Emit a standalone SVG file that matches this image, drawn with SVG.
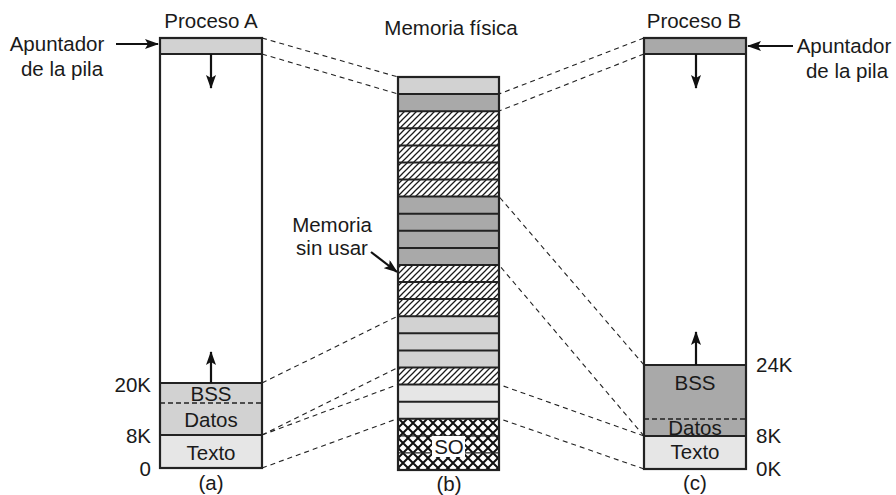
<svg xmlns="http://www.w3.org/2000/svg" width="896" height="495" viewBox="0 0 896 495">
<style>
text{font-family:"Liberation Sans",Arial,sans-serif;font-size:20.5px;fill:#1a1a1a}
.mid{text-anchor:middle}
.end{text-anchor:end}
.box{stroke:#222;stroke-width:2.2;fill:none}
.sep{stroke:#222;stroke-width:2}
.dash{stroke:#222;stroke-width:1.1;stroke-dasharray:5 4;fill:none}
.idash{stroke:#222;stroke-width:1.3;stroke-dasharray:5 3}
.arr{stroke:#111;stroke-width:2.2;fill:none}
.lt{fill:#d2d2d2}
.md{fill:#a9a9a9}
.vl{fill:#e6e6e6}
</style>
<defs>
<pattern id="hatch" patternUnits="userSpaceOnUse" width="6" height="6">
<rect width="6" height="6" fill="#fff"/>
<path d="M0,6 L6,0 M-1.5,1.5 L1.5,-1.5 M4.5,7.5 L7.5,4.5" stroke="#1a1a1a" stroke-width="1.25"/>
</pattern>
<pattern id="xhatch" patternUnits="userSpaceOnUse" width="10" height="10" x="398" y="418">
<rect width="10" height="10" fill="#fff"/>
<path d="M0,0 L10,10 M10,0 L0,10" stroke="#111" stroke-width="2"/>
</pattern>
<marker id="ah" viewBox="0 0 14 10" refX="13" refY="5" markerWidth="14" markerHeight="10" markerUnits="userSpaceOnUse" orient="auto">
<path d="M0,0 L14,5 L0,10 L3,5 Z" fill="#111"/>
</marker>
</defs>
<rect width="896" height="495" fill="#fff"/>

<g id="connectors">
<line class="dash" x1="262" y1="38" x2="398" y2="77"/>
<line class="dash" x1="262" y1="54" x2="398" y2="94"/>
<line class="dash" x1="262" y1="383" x2="398" y2="316"/>
<line class="dash" x1="262" y1="435" x2="398" y2="367.5"/>
<line class="dash" x1="262" y1="435" x2="398" y2="384.5"/>
<line class="dash" x1="262" y1="468" x2="398" y2="418.5"/>
<line class="dash" x1="644" y1="38" x2="499" y2="94"/>
<line class="dash" x1="644" y1="54" x2="499" y2="111"/>
<line class="dash" x1="644" y1="365" x2="499" y2="196.5"/>
<line class="dash" x1="644" y1="436" x2="499" y2="265"/>
<line class="dash" x1="644" y1="436" x2="499" y2="384.5"/>
<line class="dash" x1="644" y1="469" x2="499" y2="418.5"/>
<line class="arr" x1="116" y1="44" x2="158" y2="44" marker-end="url(#ah)"/>
<line class="arr" x1="793" y1="46" x2="748" y2="46" marker-end="url(#ah)"/>
<line class="arr" x1="371" y1="252" x2="397" y2="272" marker-end="url(#ah)"/>
</g>

<g id="procesoA">
<rect class="lt" x="160" y="38" width="102" height="16"/>
<rect class="lt" x="160" y="383" width="102" height="52"/>
<rect class="vl" x="160" y="435" width="102" height="33"/>
<line class="sep" x1="160" y1="54" x2="262" y2="54"/>
<line class="sep" x1="160" y1="383" x2="262" y2="383"/>
<line class="idash" x1="160" y1="403" x2="262" y2="403"/>
<line class="sep" x1="160" y1="435" x2="262" y2="435"/>
<rect class="box" x="160" y="38" width="102" height="430"/>
<line class="arr" x1="211" y1="54" x2="211" y2="88" marker-end="url(#ah)"/>
<line class="arr" x1="211" y1="383" x2="211" y2="352" marker-end="url(#ah)"/>
<text class="mid" x="211" y="28">Proceso A</text>
<text class="mid" x="211" y="401">BSS</text>
<text class="mid" x="211" y="427">Datos</text>
<text class="mid" x="211" y="460">Texto</text>
<text class="end" x="151" y="392">20K</text>
<text class="end" x="151" y="443">8K</text>
<text class="end" x="151" y="476">0</text>
<text class="mid" x="211" y="490">(a)</text>
<text class="mid" x="57" y="51">Apuntador</text>
<text class="mid" x="62" y="76">de la pila</text>
</g>

<g id="memoria">
<rect class="lt" x="398" y="77" width="101" height="17.1"/>
<rect class="md" x="398" y="94.1" width="101" height="17.1"/>
<rect fill="url(#hatch)" x="398" y="111.2" width="101" height="85.4"/>
<rect class="md" x="398" y="196.6" width="101" height="68.4"/>
<rect fill="url(#hatch)" x="398" y="265" width="101" height="51.2"/>
<rect class="lt" x="398" y="316.2" width="101" height="51.3"/>
<rect fill="url(#hatch)" x="398" y="367.5" width="101" height="17.1"/>
<rect class="vl" x="398" y="384.6" width="101" height="34.1"/>
<rect fill="url(#xhatch)" x="398" y="418.7" width="101" height="51.3"/>
<g class="sep">
<line x1="398" y1="94.1" x2="499" y2="94.1"/>
<line x1="398" y1="111.2" x2="499" y2="111.2"/>
<line x1="398" y1="128.3" x2="499" y2="128.3"/>
<line x1="398" y1="145.4" x2="499" y2="145.4"/>
<line x1="398" y1="162.4" x2="499" y2="162.4"/>
<line x1="398" y1="179.5" x2="499" y2="179.5"/>
<line x1="398" y1="196.6" x2="499" y2="196.6"/>
<line x1="398" y1="213.7" x2="499" y2="213.7"/>
<line x1="398" y1="230.8" x2="499" y2="230.8"/>
<line x1="398" y1="247.9" x2="499" y2="247.9"/>
<line x1="398" y1="265" x2="499" y2="265"/>
<line x1="398" y1="282" x2="499" y2="282"/>
<line x1="398" y1="299.1" x2="499" y2="299.1"/>
<line x1="398" y1="316.2" x2="499" y2="316.2"/>
<line x1="398" y1="333.3" x2="499" y2="333.3"/>
<line x1="398" y1="350.4" x2="499" y2="350.4"/>
<line x1="398" y1="367.5" x2="499" y2="367.5"/>
<line x1="398" y1="384.6" x2="499" y2="384.6"/>
<line x1="398" y1="401.7" x2="499" y2="401.7"/>
<line x1="398" y1="418.7" x2="499" y2="418.7"/>
<line x1="398" y1="435.8" x2="499" y2="435.8" stroke-width="1.2"/>
<line x1="398" y1="452.9" x2="499" y2="452.9" stroke-width="1.2"/>
</g>
<rect class="box" x="398" y="77" width="101" height="393" stroke-width="2.6"/>
<rect x="432" y="436" width="33" height="21" fill="#fff"/>
<text class="mid" x="449" y="454">SO</text>
<text class="mid" x="451" y="35">Memoria física</text>
<text class="mid" x="332" y="232">Memoria</text>
<text class="mid" x="332" y="255">sin usar</text>
<text class="mid" x="449" y="491">(b)</text>
</g>

<g id="procesoB">
<rect class="md" x="644" y="38" width="102" height="16"/>
<rect class="md" x="644" y="365" width="102" height="71"/>
<rect class="vl" x="644" y="436" width="102" height="33"/>
<line class="sep" x1="644" y1="54" x2="746" y2="54"/>
<line class="sep" x1="644" y1="365" x2="746" y2="365"/>
<line class="idash" x1="644" y1="419" x2="746" y2="419"/>
<line class="sep" x1="644" y1="436" x2="746" y2="436"/>
<rect class="box" x="644" y="38" width="102" height="431"/>
<line class="arr" x1="696" y1="54" x2="696" y2="88" marker-end="url(#ah)"/>
<line class="arr" x1="696" y1="365" x2="696" y2="332" marker-end="url(#ah)"/>
<text class="mid" x="694" y="28">Proceso B</text>
<text class="mid" x="695" y="390">BSS</text>
<text class="mid" x="695" y="435">Datos</text>
<text class="mid" x="695" y="459">Texto</text>
<text x="756" y="372">24K</text>
<text x="756" y="443">8K</text>
<text x="756" y="476">0K</text>
<text class="mid" x="695" y="490">(c)</text>
<text class="mid" x="844" y="53">Apuntador</text>
<text class="mid" x="847" y="78">de la pila</text>
</g>
</svg>
